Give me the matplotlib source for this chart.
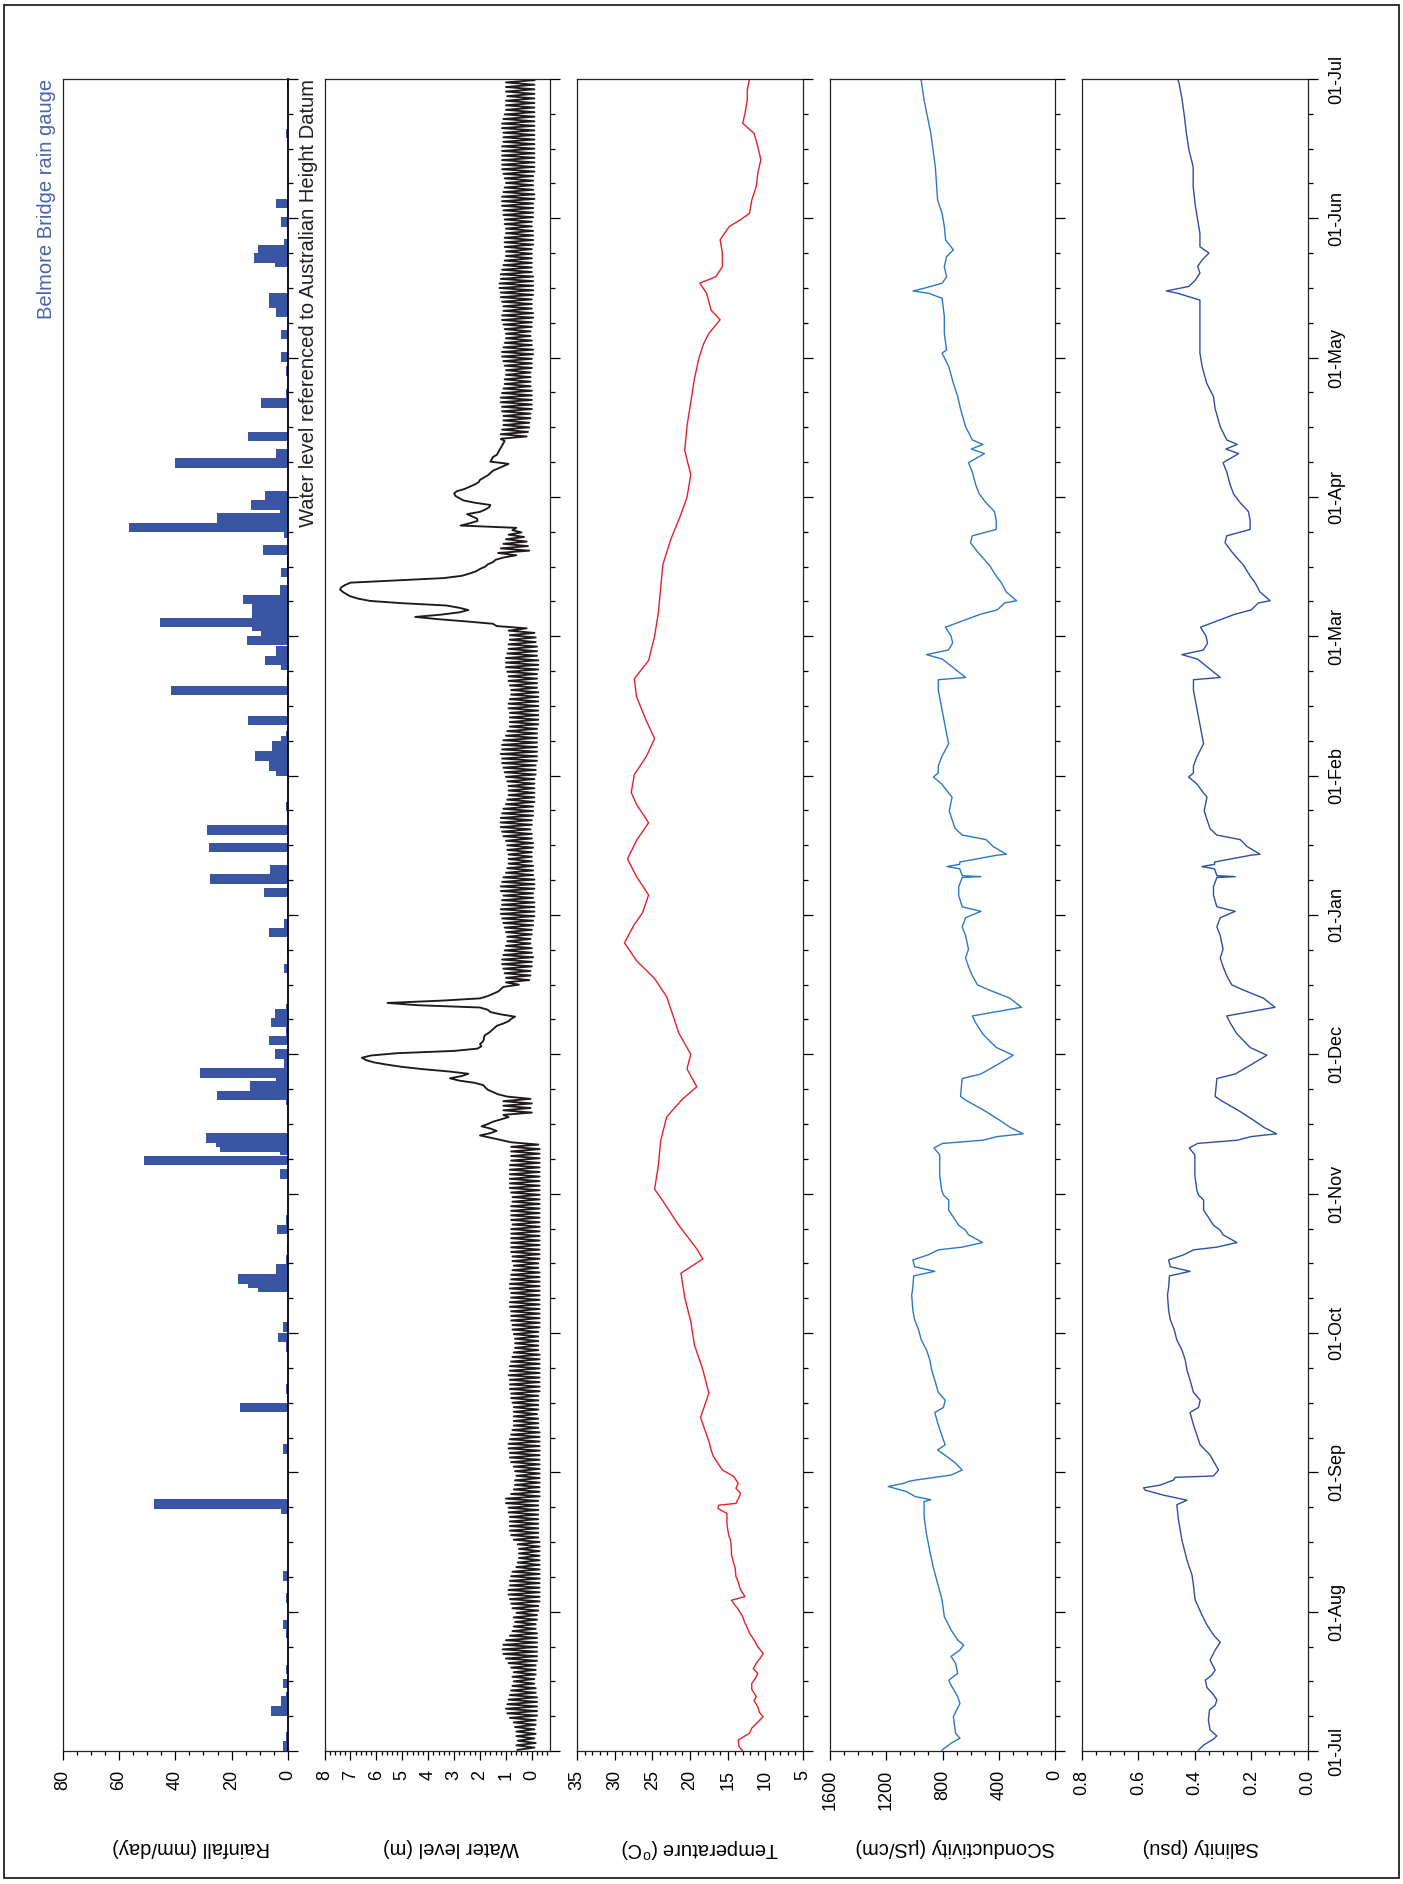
import numpy as np
import matplotlib.pyplot as plt
from matplotlib.ticker import MultipleLocator
from matplotlib.patches import Rectangle

plt.rcParams['font.family'] = ['Liberation Sans', 'DejaVu Sans']
plt.rcParams['mathtext.fontset'] = 'custom'
plt.rcParams['mathtext.rm'] = 'Liberation Sans'

# ---- time axis: one year, 01-Jul to 01-Jul, days since start ----
n_days = 366
month_labels = ['01-Jul', '01-Aug', '01-Sep', '01-Oct', '01-Nov', '01-Dec', '01-Jan',
                '01-Feb', '01-Mar', '01-Apr', '01-May', '01-Jun', '01-Jul']

# ---- daily rainfall (day of record, mm/day) ----
rain_day = [0.0, 2.0, 7.7, 9.9, 10.9, 13.7, 16.8, 24.7, 26.6, 32.5, 37.3, 51.9, 53.0, 65.1,
            74.1, 78.2, 87.4, 89.5, 91.8, 100.4, 101.3, 102.3, 104.4, 106.4, 109.2, 113.1,
            115.2, 125.2, 128.2, 130.4, 131.2, 132.2, 133.2, 141.3, 142.4, 144.5, 145.4,
            146.4, 147.4, 149.6, 151.5, 154.5, 156.6, 158.4, 160.4, 161.5, 170.2, 174.3,
            178.1, 180.1, 186.9, 189.8, 191.8, 196.7, 200.6, 205.7, 213.5, 214.6, 216.8,
            219.0, 220.1, 221.2, 224.5, 227.5, 231.1, 233.2, 236.6, 237.7, 239.8, 242.0,
            244.1, 245.1, 246.0, 248.1, 249.1, 251.0, 253.1, 256.9, 259.0, 261.8, 265.6,
            266.8, 268.9, 270.9, 271.7, 273.7, 280.9, 282.9, 286.7, 294.0, 296.1, 301.0,
            304.1, 309.0, 313.9, 315.9, 317.0, 324.8, 325.8, 327.6, 328.9, 333.6, 337.7,
            353.0, 364.1]
rain_mm = [1.9, 0.8, 5.9, 2.4, 0.6, 1.7, 0.6, 0.6, 1.7, 0.8, 1.7, 2.4, 47.4, 1.7,
           16.9, 0.6, 0.6, 3.4, 1.9, 10.5, 14.3, 17.7, 4.4, 0.6, 0.5, 4.0,
           0.6, 3.0, 51.0, 3.0, 24.3, 25.5, 29.0, 0.6, 25.1, 13.4, 3.4,
           4.4, 31.2, 1.5, 4.7, 6.8, 0.6, 5.9, 4.7, 0.6, 1.5, 0.4,
           6.6, 1.5, 8.4, 27.6, 6.5, 28.0, 28.7, 0.6, 4.1, 6.6, 11.6,
           5.6, 2.4, 0.8, 14.1, 0.5, 41.5, 0.5, 2.4, 8.1, 4.1, 14.5,
           9.5, 12.8, 45.4, 12.8, 12.6, 15.9, 3.0, 2.4, 0.5, 9.0, 1.5,
           56.4, 25.1, 3.0, 13.0, 8.1, 40.0, 4.1, 14.1, 9.5, 0.8, 0.8,
           2.4, 2.4, 4.4, 6.6, 6.6, 4.7, 12.0, 10.8, 1.5, 2.4, 4.4,
           0.8, 0.5]

# ---- water level (m AHD): daily high / low readings ----
wl_high = [
    0.55, 0.6, 0.55, 0.6, 0.6, 0.65, 0.7, 0.85, 0.95, 1.0,          # 0
    0.95, 0.9, 0.85, 0.8, 0.75, 0.7, 0.75, 0.7, 0.8, 0.9,
    1.0, 1.1, 1.13, 1.1, 1.0, 0.85, 0.75, 0.7, 0.65, 0.7,
    0.6, 0.75, 0.8, 0.85, 0.9, 0.9, 0.85, 0.85, 0.8, 0.75,
    0.6, 0.55, 0.5, 0.5, 0.5, 0.55, 0.7, 0.8, 0.85, 0.85,
    0.85, 0.85, 0.9, 0.9, 1.0, 1.0, 0.8, 0.7, 0.65, 0.65,          # 50
    0.6, 0.65, 0.7, 0.8, 0.85, 0.85, 0.9, 0.9, 0.85, 0.8,
    0.75, 0.7, 0.7, 0.7, 0.7, 0.7, 0.75, 0.8, 0.8, 0.85,
    0.85, 0.85, 0.9, 0.85, 0.85, 0.8, 0.75, 0.7, 0.65, 0.65,
    0.65, 0.7, 0.75, 0.75, 0.8, 0.8, 0.8, 0.85, 0.85, 0.8,
    0.8, 0.85, 0.85, 0.8, 0.8, 0.75, 0.7, 0.75, 0.75, 0.8,         # 100
    0.8, 0.8, 0.8, 0.8, 0.8, 0.75, 0.8, 0.8, 0.8, 0.8,
    0.75, 0.75, 0.8, 0.85, 0.85, 0.85, 0.85, 0.85, 0.85, 0.8,
    0.8, 0.8, 0.8,
    0.8, 1.6, 1.6, 1.6, 1.7, 1.2, 1.1, 1.1, 1.1, 1.1,              # 133 flood
    0.95, 1.5, 1.8, 2.2, 3.16, 2.45, 4.2, 5.6, 6.4, 6.2,
    3.0, 1.95, 1.9, 1.85, 1.65, 1.45, 1.1, 0.8, 1.2, 1.7,
    4.4, 3.5, 1.7, 1.3, 1.1,
    1.0, 1.0, 1.05, 1.1, 1.15, 1.15, 1.1, 1.05, 1.0, 0.95, 0.95, 1.0, 1.05, 1.1,
    1.15, 1.2, 1.2, 1.15, 1.15, 1.1, 1.2, 1.2, 1.15, 1.1, 1.0, 0.95, 0.9, 0.9,
    0.9, 0.95, 0.95, 1.0, 1.1, 1.15, 1.2, 1.2, 1.2, 1.15, 1.1, 1.0, 0.95, 0.9,
    0.9, 0.9, 0.95, 1.0, 1.05, 1.1, 1.15, 1.15, 1.2, 1.15, 1.15, 1.1, 1.0, 0.95,
    0.85, 0.85, 0.85, 0.85, 0.9, 0.9, 0.85, 0.8, 0.8, 0.85, 0.9, 0.9, 0.95, 1.0,
    1.0, 1.0, 0.95, 0.9, 0.9, 0.85, 0.85, 0.9,
    1.36, 2.5, 4.5, 2.8, 2.8, 5.0, 6.7, 7.16, 7.4, 7.2,            # 246 flood
    5.2, 2.7, 2.15, 1.8, 1.5, 1.1, 1.3, 1.2, 1.1, 1.0,
    0.9, 0.75, 2.75, 2.1, 2.3, 2.0, 1.65, 2.2, 2.8, 3.0,
    2.6, 2.2, 2.0, 1.7, 1.5, 1.1, 1.6, 1.5, 1.3, 1.2, 1.1,
    1.2, 1.2, 1.15, 1.1, 1.1, 1.1, 1.15, 1.15, 1.2, 1.2, 1.15, 1.1, 1.05,
    1.05, 1.0, 1.0, 1.05, 1.1, 1.15, 1.15, 1.1, 1.05, 1.0, 1.0, 1.05, 1.1, 1.15, 1.15, 1.1,
    1.1, 1.15, 1.2, 1.2, 1.25, 1.25, 1.2, 1.2, 1.15, 1.1, 1.05, 1.0, 1.0, 1.05, 1.05,
    1.05, 1.0, 1.0, 1.05, 1.05, 1.1, 1.1, 1.15, 1.15, 1.15, 1.1, 1.05, 1.0, 1.05, 1.1,
    1.15, 1.15, 1.15,
    1.15, 1.15, 1.15, 1.1, 1.1, 1.1, 1.15, 1.15, 1.1, 1.05, 1.0, 1.0, 1.0, 0.95, 1.0,
    1.0, 1.0]
wl_low = [
    -0.1, -0.15, -0.1, -0.15, -0.1, -0.15, -0.15, -0.2, -0.2, -0.2,
    -0.2, -0.2, -0.15, -0.15, -0.1, -0.1, -0.15, -0.15, -0.15, -0.2,
    -0.2, -0.2, -0.2, -0.2, -0.2, -0.2, -0.15, -0.15, -0.2, -0.2,
    -0.25, -0.25, -0.3, -0.3, -0.3, -0.3, -0.3, -0.3, -0.3, -0.3,
    -0.3, -0.3, -0.3, -0.3, -0.3, -0.3, -0.25, -0.25, -0.25, -0.25,
    -0.25, -0.25, -0.25, -0.25, -0.25, -0.3, -0.3, -0.3, -0.3, -0.3,
    -0.3, -0.3, -0.3, -0.3, -0.3, -0.3, -0.3, -0.3, -0.3, -0.3,
    -0.25, -0.25, -0.25, -0.2, -0.25, -0.25, -0.25, -0.25, -0.3, -0.3,
    -0.3, -0.3, -0.3, -0.3, -0.3, -0.3, -0.3, -0.25, -0.25, -0.25,
    -0.25, -0.25, -0.3, -0.3, -0.3, -0.3, -0.3, -0.3, -0.3, -0.3,
    -0.3, -0.3, -0.3, -0.3, -0.3, -0.25, -0.25, -0.3, -0.3, -0.3,
    -0.3, -0.3, -0.3, -0.3, -0.3, -0.3, -0.3, -0.3, -0.3, -0.3,
    -0.3, -0.3, -0.3, -0.3, -0.3, -0.3, -0.3, -0.3, -0.3, -0.3,
    -0.3, -0.3, -0.25,
    1.2, 2.0, 1.36, 1.94, 1.5, 0.9, 0.0, 0.05, 0.0, 0.05,
    1.3, 1.7, 1.87, 2.8, 2.7, 3.2, 5.0, 6.1, 6.56, 5.2,
    2.1, 2.0, 1.85, 1.8, 1.55, 1.35, 0.9, 0.65, 1.6, 2.0,
    5.57, 2.0, 1.5, 1.2, 0.5,
    0.1, 0.05, 0.05, 0.0, 0.0, -0.05, 0.0, 0.0, 0.05, 0.05, 0.0, 0.0, -0.05, -0.05,
    -0.1, -0.1, -0.1, -0.1, -0.05, -0.05, -0.1, -0.1, -0.1, -0.05, -0.05, -0.05, 0.0, 0.0,
    0.0, -0.05, -0.05, 0.0, 0.0, 0.05, 0.0, 0.0, -0.05, -0.05, -0.05, -0.1, -0.1, -0.1,
    -0.1, -0.1, -0.1, -0.15, -0.15, -0.15, -0.2, -0.2, -0.2, -0.2, -0.2, -0.2, -0.2, -0.2,
    -0.25, -0.25, -0.25, -0.25, -0.25, -0.25, -0.25, -0.25, -0.2, -0.2, -0.2, -0.2, -0.25, -0.25,
    -0.25, -0.2, -0.2, -0.2, -0.15, -0.15, -0.1, 0.2,
    1.5, 3.6, 3.5, 2.45, 3.3, 6.24, 7.0, 7.3, 7.35, 7.0,
    3.4, 2.4, 2.0, 1.7, 1.4, 0.6, 0.1, 0.15, 0.2, 0.3,
    0.4, 0.6, 2.4, 2.11, 2.5, 1.8, 1.6, 2.64, 2.95, 2.9,
    2.4, 2.05, 1.85, 1.6, 1.3, 0.9, 1.55, 1.35, 1.25, 1.15, 1.05,
    0.2, 0.15, 0.1, 0.1, 0.05, 0.05, 0.0, 0.0, 0.0, 0.0, 0.0, 0.05, 0.05,
    0.05, 0.05, 0.0, 0.0, 0.0, -0.05, -0.05, 0.0, 0.0, 0.05, 0.05, 0.0, 0.0, -0.05, -0.05, 0.0,
    0.0, 0.0, -0.05, -0.05, -0.05, -0.05, -0.05, 0.0, 0.0, 0.0, 0.0, 0.0, 0.0, -0.05, -0.05,
    -0.05, -0.05, 0.0, 0.0, -0.05, -0.05, -0.05, -0.05, -0.1, -0.1, -0.05, -0.05, -0.05, -0.05, -0.1,
    -0.1, -0.1, -0.1,
    -0.1, -0.1, -0.1, -0.1, -0.1, -0.1, -0.1, -0.1, -0.1, -0.1, -0.1, -0.1, -0.1, -0.1, -0.1,
    -0.1, -0.1]

# ---- water temperature (deg C) ----
temp_day = [0, 1, 2.4, 3.9, 5, 6, 7.5, 8.5, 9.7, 11, 11.9, 13.5, 14.8, 16, 17, 18, 19.2, 20.5,
            21.4, 22.8, 24.3, 25.8, 27, 28, 29.4, 31, 32.3, 33, 33.8, 35.3, 37, 38.2, 40, 41.1,
            43, 44, 46, 46.9, 48.5, 49.9, 52, 53.1, 53.8, 54.2, 55.5, 56.4, 57.5, 58.6, 60.1,
            61.5, 63, 64.5, 65.9, 67.8, 73.0, 78.3, 83.5, 88.8, 94.0, 99.3, 104.6, 107.7,
            109.9, 115.1, 120.4, 123.0, 128.2, 133.5, 138.8, 142.7, 145.4, 149.3, 152.5,
            157.2, 161.2, 165.1, 169.1, 173.0, 176.9, 180.9, 183.5, 187.4, 191.4, 195.3,
            199.3, 203.2, 207.2, 209.8, 213.7, 217.7, 221.6, 225.5, 230.8, 234.7, 238.7,
            244.0, 249.2, 254.5, 259.7, 265.0, 270.3, 274.4, 279.4, 284.7, 290.0, 295.2,
            300.5, 305.0, 308.0, 310.3, 313.3, 315.4, 319.1, 321.3, 322.7, 324.9, 327.9,
            330.8, 333.7, 335.2, 336.6, 339.5, 342.5, 345.4, 348.3, 351.2, 354.1, 356.3,
            358.5, 361.4, 363.6, 366]
temp_c = [13.0, 13.5, 13.6, 12.1, 11.8, 11.2, 10.3, 10.8, 11.0, 11.5, 11.2, 11.8, 11.8, 11.3,
          11.0, 11.6, 11.2, 10.6, 10.3, 11.0, 11.5, 12.1, 12.4, 12.7, 13.0, 13.6, 14.2, 14.5,
          12.7, 13.3, 13.6, 13.9, 14.0, 14.2, 14.5, 14.5, 14.6, 14.8, 15.0, 15.1, 15.1, 16.3,
          16.2, 13.9, 13.5, 13.3, 13.9, 13.6, 14.2, 15.7, 16.3, 16.9, 17.2, 17.5, 18.6, 17.5,
          18.3, 19.4, 19.9, 20.7, 21.2, 18.3, 19.1, 21.5, 23.6, 24.7, 24.2, 23.9, 23.1, 21.0,
          19.1, 20.4, 19.9, 21.5, 22.3, 23.1, 24.7, 27.1, 28.7, 27.4, 26.3, 25.5, 27.1, 28.3,
          27.1, 25.5, 27.1, 27.8, 27.4, 25.8, 24.7, 25.8, 27.1, 27.4, 25.5, 24.7, 24.2, 23.9,
          23.6, 22.6, 21.3, 20.4, 19.9, 20.7, 20.4, 19.9, 19.4, 18.8, 18.2, 17.5, 16.0, 17.2,
          17.8, 18.7, 16.6, 15.7, 15.7, 16.0, 14.8, 13.3, 12.1, 11.8, 11.2, 11.0, 10.6, 11.0,
          11.5, 13.0, 12.7, 12.4, 12.4, 12.1]

# ---- salinity (psu) ----
sal_day = [0.2, 1.3, 2.6, 3.3, 4.6, 6.8, 9, 10, 11.2, 12.3, 13.9, 15.5, 16.6, 17.7, 19.9, 22.1,
           23.8, 25.4, 27.6, 29.8, 33.1, 36.3, 38.5, 41.8, 46.2, 50.6, 53.9, 54.9, 56.0, 57.1,
           57.6, 58.2, 59.3, 59.9, 60.2, 61.5, 64.8, 67, 69.2, 71.4, 74.1, 75.2, 76.8, 78.5,
           81.2, 83.4, 85.6, 87.8, 90, 92.2, 94.4, 96.5, 99.8, 101.5, 104, 105, 106, 107.5,
           108.6, 109.7, 110.3, 111.3, 113, 114, 115.1, 117.3, 118.4, 120.6, 121.7, 122.8,
           126, 130.5, 132, 133, 133.7, 134.5, 135.1, 136.5, 138, 140, 142.5, 143.3, 147.2,
           148.2, 150.1, 152.3, 154.0, 157.0, 159.4, 160.9, 162.8, 164.8, 166.7, 167.7, 169.7,
           171.7, 173.6, 175.5, 178.5, 180.4, 182.4, 183.8, 184.8, 187.3, 189.2, 191.2, 191.4,
           191.6, 193.1, 193.6, 194.1, 194.6, 196.1, 196.3, 198.0, 199.5, 200.5, 201.9, 203.9,
           205.8, 208.8, 209.7, 211.7, 213.2, 214.1, 215.6, 217.6, 220.5, 222.4, 228.3, 232.2,
           234.5, 235, 236, 237.5, 239, 240, 241, 242.5, 244, 246, 247.4, 248.8, 249.8, 251.3,
           251.8, 253.7, 255.7, 257.2, 259.6, 262.5, 264.5, 266, 267.4, 269.4, 271.3, 273.3,
           275.2, 277.2, 280, 282, 284, 285, 286, 287, 289.9, 293.8, 296.5, 299.4, 303, 306,
           310.3, 314, 317.6, 319.1, 319.6, 320.6, 322, 323.5, 325, 326.4, 327.9, 329.3, 332.2,
           335.2, 338.1, 342.5, 346.8, 350.5, 354.1, 357.8, 361.4, 365.1, 366]
sal_psu = [0.387, 0.369, 0.334, 0.322, 0.346, 0.352, 0.348, 0.328, 0.322, 0.334, 0.357, 0.363,
           0.34, 0.328, 0.346, 0.328, 0.31, 0.334, 0.357, 0.375, 0.399, 0.405, 0.41, 0.428,
           0.446, 0.458, 0.464, 0.428, 0.511, 0.576, 0.582, 0.523, 0.476, 0.47, 0.334, 0.316,
           0.346, 0.381, 0.393, 0.405, 0.417, 0.387, 0.381, 0.405, 0.417, 0.428, 0.434, 0.446,
           0.464, 0.473, 0.487, 0.493, 0.497, 0.493, 0.49, 0.417, 0.487, 0.493, 0.44, 0.405,
           0.322, 0.251, 0.30, 0.31, 0.334, 0.357, 0.369, 0.369, 0.387, 0.393, 0.40, 0.40, 0.42,
           0.39, 0.25, 0.2, 0.11, 0.155, 0.19, 0.24, 0.31, 0.328, 0.322, 0.257, 0.204, 0.145,
           0.204, 0.251, 0.275, 0.287, 0.116, 0.157, 0.233, 0.269, 0.287, 0.30, 0.31, 0.30, 0.31,
           0.322, 0.31, 0.257, 0.322, 0.334, 0.334, 0.322, 0.257, 0.322, 0.33, 0.375, 0.33, 0.33,
           0.20, 0.169, 0.215, 0.239, 0.322, 0.346, 0.357, 0.367, 0.357, 0.369, 0.393, 0.422,
           0.405, 0.405, 0.393, 0.369, 0.375, 0.393, 0.405, 0.405, 0.31, 0.33, 0.36, 0.39, 0.446,
           0.37, 0.355, 0.36, 0.38, 0.32, 0.26, 0.2, 0.175, 0.133, 0.169, 0.186, 0.204, 0.228,
           0.269, 0.293, 0.287, 0.204, 0.204, 0.21, 0.24, 0.263, 0.275, 0.287, 0.30, 0.245, 0.29,
           0.25, 0.287, 0.31, 0.328, 0.334, 0.358, 0.374, 0.382, 0.382, 0.382, 0.382, 0.461,
           0.501, 0.421, 0.398, 0.382, 0.39, 0.374, 0.35, 0.382, 0.382, 0.39, 0.398, 0.406,
           0.406, 0.421, 0.43, 0.437, 0.445, 0.456, 0.461]

# ---- specific conductivity (uS/cm) ----
cond_day = [0.2, 1.7, 2.8, 3.9, 7.5, 10.4, 11.9, 14.8, 15.5, 17, 19.2, 20.7, 22.1, 23.2, 24.3,
            26.5, 29.4, 33.1, 36.7, 40.4, 44, 47.7, 51.3, 54.6, 55, 55.7, 56.8, 57.9, 58.6, 59,
            59.3, 60.4, 61.5, 63, 64.5, 65.9, 67, 69.2, 71.4, 74.1, 75.2, 76.8, 78.5, 81.2,
            83.4, 85.6, 87.8, 90, 92.2, 94.4, 96.5, 99.8, 101.5, 104, 105, 106, 107.5, 108.6,
            109.7, 110.3, 111.3, 113, 114, 115.1, 117.3, 118.4, 120.6, 121.7, 122.8, 126, 130.5,
            132, 133, 133.7, 134.5, 135.1, 136.5, 138, 140, 142.5, 143.3, 147.2, 148.2, 150.1,
            152.3, 154, 157, 159.4, 160.9, 162.8, 164.8, 166.7, 167.7, 169.7, 171.7, 173.6,
            175.5, 178.5, 180.4, 182.4, 183.8, 184.8, 187.3, 189.2, 191.2, 191.4, 191.6, 193.1,
            193.6, 194.1, 194.6, 196.1, 196.3, 198, 199.5, 200.5, 201.9, 203.9, 205.8, 208.8,
            209.7, 211.7, 213.2, 214.1, 215.6, 217.6, 220.5, 222.4, 228.3, 232.2, 234.5, 235,
            236, 237.5, 239, 240, 241, 242.5, 244, 246, 247.4, 248.8, 249.8, 251.3, 251.8, 253.7,
            255.7, 257.2, 259.6, 262.5, 264.5, 266, 267.4, 269.4, 271.3, 273.3, 275.2, 277.2,
            280, 282, 284, 285, 286, 287, 289.9, 293.8, 296.5, 299.4, 303, 306, 306.7, 310.3,
            314, 318, 319.1, 319.6, 320.2, 321.3, 322.7, 324.9, 327.1, 328.6, 330.8, 333.7,
            336.6, 339.5, 346.8, 354.1, 361.4, 366]
cond_us = [803, 739, 676, 707, 723, 676, 692, 746, 755, 692, 707, 739, 676, 650, 692,
           739, 787, 803, 835, 867, 892, 915, 931, 931, 883, 994, 1058, 1186, 1074, 1042,
           994, 739, 660, 707, 771, 835, 781, 806, 830, 855, 793, 781, 830, 855,
           877, 890, 914, 951, 970, 998, 1011, 1019, 1011, 1005, 855, 998, 1011, 902,
           830, 660, 515, 615, 636, 685, 732, 756, 756, 793, 806, 820, 820,
           861, 800, 513, 410, 226, 318, 390, 492, 636, 672, 660, 527, 418,
           297, 418, 515, 564, 588, 238, 322, 478, 551, 588, 615, 636,
           615, 636, 660, 636, 527, 660, 685, 685, 660, 527, 660, 677,
           769, 677, 677, 410, 346, 441, 490, 660, 709, 732, 752, 732,
           756, 806, 865, 830, 830, 806, 756, 769, 806, 830, 830, 636,
           677, 738, 800, 914, 758, 728, 738, 779, 656, 533, 410, 359, 273, 346,
           381, 418, 467, 551, 601, 588, 418, 418, 430, 492, 539, 564,
           588, 615, 502, 595, 513, 588, 636, 672, 692, 723, 755, 803, 771, 787,
           787, 803, 899, 1010, 931, 803, 771, 787, 771, 723, 778, 787,
           803, 835, 851, 883, 931, 953]

# ---- layout (figure pixels) ----
W, H = 1403, 1884
ax_top, ax_bot = 79, 1751
columns = [(62.5, 288), (324.5, 550), (577, 803), (830, 1055), (1082, 1307.7)]

fig = plt.figure(figsize=(W / 100, H / 100), dpi=100)
fig.patches.append(Rectangle((4 / W, 6 / H), 1395 / W, 1873 / H, transform=fig.transFigure,
                             fill=False, lw=1.3, ec='#222222'))

axes = []
for x0, x1 in columns:
    ax = fig.add_axes([x0 / W, 1 - ax_bot / H, (x1 - x0) / W, (ax_bot - ax_top) / H])
    axes.append(ax)

ax_rain, ax_wl, ax_temp, ax_cond, ax_sal = axes

ax_rain.barh(rain_day, rain_mm, height=2.1, align='edge', color='#3a55a4', lw=0)
ax_rain.set_xlim(80, 0)
ax_rain.xaxis.set_major_locator(MultipleLocator(20))
ax_rain.xaxis.set_minor_locator(MultipleLocator(5))

days = np.arange(len(wl_high))
wl_t = np.column_stack([days + 0.25, days + 0.75]).ravel()
wl_v = np.column_stack([wl_high, wl_low]).ravel()
ax_wl.plot(wl_v, wl_t, color='#1e1a1b', lw=1.35)
ax_wl.set_xlim(8, -0.7)
ax_wl.xaxis.set_major_locator(MultipleLocator(1))
ax_wl.xaxis.set_minor_locator(MultipleLocator(0.2))

ax_temp.plot(temp_c, temp_day, color='#e2222b', lw=1.0)
ax_temp.set_xlim(35, 5)
ax_temp.xaxis.set_major_locator(MultipleLocator(5))
ax_temp.xaxis.set_minor_locator(MultipleLocator(1))

ax_cond.plot(cond_us, cond_day, color='#2a79c8', lw=1.0)
ax_cond.set_xlim(1600, 0)
ax_cond.xaxis.set_major_locator(MultipleLocator(400))
ax_cond.xaxis.set_minor_locator(MultipleLocator(100))

ax_sal.plot(sal_psu, sal_day, color='#2c4ea5', lw=1.0)
ax_sal.set_xlim(0.8, 0.0)
ax_sal.xaxis.set_major_locator(MultipleLocator(0.2))
ax_sal.xaxis.set_minor_locator(MultipleLocator(0.05))
ax_sal.xaxis.set_major_formatter(lambda v, p: '%.1f' % v)

major_t = np.linspace(0, n_days, 13)
minor_t = np.linspace(0, n_days, 49)
for i, ax in enumerate(axes):
    ax.set_ylim(0, n_days)
    ax.set_yticks(major_t)
    ax.set_yticks(minor_t, minor=True)
    ax.yaxis.set_ticks_position('right')
    ax.tick_params(axis='y', which='major', direction='out', length=7.5, width=0.9,
                   labelright=(i == 4), labelleft=False, labelsize=13, pad=7)
    ax.tick_params(axis='y', which='minor', direction='out', length=3.8, width=0.9)
    ax.tick_params(axis='x', which='major', direction='out', length=6.5, width=0.9,
                   labelsize=13, pad=7, labelrotation=90)
    ax.tick_params(axis='x', which='minor', direction='out', length=3.2, width=0.9)
    ax.xaxis.set_ticks_position('bottom')
    for s in ax.spines.values():
        s.set_linewidth(0.9)
        s.set_color('#222222')
    if i == 4:
        ax.set_yticklabels(month_labels)
        plt.setp(ax.get_yticklabels(), rotation=90, va='center')

ax_rain.spines['right'].set_linewidth(1.3)
ax_rain.spines['right'].set_color('black')

labels = ['Rainfall (mm/day)', 'Water level (m)', r'Temperature ($^{\rm o}$C)',
          'SConductivity (\u00b5S/cm)', 'Salinity (psu)']
label_x = [191, 451, 700, 955, 1201]
for lx, txt in zip(label_x, labels):
    fig.text(lx / W, 1 - 1848 / H, txt, rotation=180, ha='center', va='center', fontsize=14.5)

fig.text(47 / W, 1 - ax_top / H, 'Belmore Bridge rain gauge', rotation=90, ha='center',
         va='top', fontsize=14.5, color='#4a63b0')
fig.text(308 / W, 1 - ax_top / H, 'Water level referenced to Australian Height Datum',
         rotation=90, ha='center', va='top', fontsize=14.5, color='#231f20')

fig.savefig('out.png', dpi=100)
